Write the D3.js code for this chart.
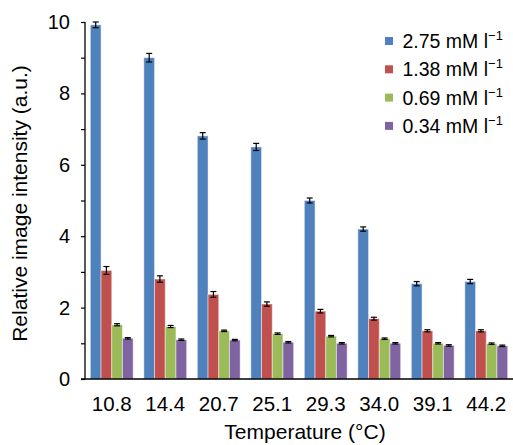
<!DOCTYPE html>
<html>
<head>
<meta charset="utf-8">
<script src="https://cdn.jsdelivr.net/npm/d3@7"></script>
<style>
  body { margin: 0; background: #fff; }
  svg { display: block; font-family: "Liberation Sans", Arial, sans-serif; }
</style>
</head>
<body>
<div id="chart"></div>
<script>
// temperatures on the x axis
var temps = ["10.8", "14.4", "20.7", "25.1", "29.3", "34.0", "39.1", "44.2"];
var seriesNames = ["2.75", "1.38", "0.69", "0.34"];
var seriesColors = ["#4f81bd", "#c0504d", "#9bbb59", "#8064a2"];

var c275 = [9.92, 9.00, 6.81, 6.50, 5.00, 4.20, 2.67, 2.73];
var c138 = [3.04, 2.80, 2.37, 2.10, 1.90, 1.69, 1.35, 1.35];
var c069 = [1.52, 1.47, 1.35, 1.27, 1.20, 1.13, 1.00, 0.99];
var c034 = [1.14, 1.10, 1.09, 1.03, 1.00, 1.00, 0.94, 0.93];

var e275 = [0.08, 0.12, 0.09, 0.10, 0.07, 0.06, 0.06, 0.06];
var e138 = [0.11, 0.09, 0.08, 0.06, 0.05, 0.04, 0.03, 0.03];
var e069 = [0.03, 0.03, 0.02, 0.02, 0.02, 0.02, 0.02, 0.02];
var e034 = [0.02, 0.02, 0.02, 0.02, 0.02, 0.02, 0.02, 0.02];

var yMajor = [0, 2, 4, 6, 8, 10];

var values = [c275, c138, c069, c034];
var errors = [e275, e138, e069, e034];

var width = 513, height = 445;
var margin = { top: 22, right: 0, bottom: 66, left: 85 };
var w = width - margin.left - margin.right;
var h = height - margin.top - margin.bottom;

var svg = d3.select("#chart").append("svg")
  .attr("width", width)
  .attr("height", height);

var g = svg.append("g")
  .attr("transform", "translate(" + margin.left + "," + margin.top + ")");

var x0 = d3.scaleBand().domain(temps).range([0, w]).paddingInner(0.2).paddingOuter(0.1);
var x1 = d3.scaleBand().domain(seriesNames).range([0, x0.bandwidth()]);
var y = d3.scaleLinear().domain([0, 10]).range([h, 0]);

// rows of data, one per temperature
var rows = temps.map(function (t, i) {
  return seriesNames.map(function (s, j) {
    return { t: t, s: s, j: j, v: values[j][i], e: errors[j][i] };
  });
});

var grp = g.selectAll("g.grp")
  .data(rows)
  .enter().append("g")
  .attr("class", "grp")
  .attr("transform", function (d) { return "translate(" + x0(d[0].t) + ",0)"; });

grp.selectAll("rect")
  .data(function (d) { return d; })
  .enter().append("rect")
  .attr("x", function (d) { return x1(d.s); })
  .attr("width", x1.bandwidth())
  .attr("y", function (d) { return y(d.v); })
  .attr("height", function (d) { return h - y(d.v); })
  .attr("fill", function (d) { return seriesColors[d.j]; })
  .attr("stroke", "rgba(255,255,255,0.45)")
  .attr("stroke-width", 1);

// error bars
var eb = grp.selectAll("g.err")
  .data(function (d) { return d; })
  .enter().append("g")
  .attr("class", "err")
  .attr("stroke", "#000")
  .attr("stroke-width", 1.2);

eb.append("line")
  .attr("x1", function (d) { return x1(d.s) + x1.bandwidth() / 2; })
  .attr("x2", function (d) { return x1(d.s) + x1.bandwidth() / 2; })
  .attr("y1", function (d) { return y(d.v + d.e); })
  .attr("y2", function (d) { return y(d.v - d.e); });

eb.selectAll("line.cap")
  .data(function (d) { return [d.v + d.e, d.v - d.e].map(function (v) { return { s: d.s, v: v }; }); })
  .enter().append("line")
  .attr("class", "cap")
  .attr("x1", function (d) { return x1(d.s) + x1.bandwidth() / 2 - 3; })
  .attr("x2", function (d) { return x1(d.s) + x1.bandwidth() / 2 + 3; })
  .attr("y1", function (d) { return y(d.v); })
  .attr("y2", function (d) { return y(d.v); });

// y axis
var yAxis = g.append("g")
  .call(d3.axisLeft(y).tickValues(d3.range(0, 11)).tickSize(4).tickFormat(function (d) {
    return yMajor.indexOf(d) >= 0 ? d : "";
  }));
yAxis.select(".domain").attr("stroke", "#000").attr("stroke-width", 1.3).attr("d", "M0," + h + "V0");
yAxis.selectAll(".tick line").attr("stroke", "#000").attr("stroke-width", 1.2);
yAxis.selectAll(".tick text")
  .attr("x", -15)
  .attr("font-size", 20)
  .attr("font-family", "Liberation Sans, Arial, sans-serif")
  .attr("fill", "#000");

// x axis
var xAxis = g.append("g")
  .attr("transform", "translate(0," + h + ")")
  .call(d3.axisBottom(x0).tickSize(0).tickPadding(17));
xAxis.select(".domain").attr("stroke", "#000").attr("stroke-width", 1.3).attr("d", "M-4,0H" + w);
xAxis.selectAll(".tick text")
  .attr("font-size", 20.5)
  .attr("font-family", "Liberation Sans, Arial, sans-serif")
  .attr("fill", "#000");

// axis titles
svg.append("text")
  .attr("transform", "translate(27," + (margin.top + h / 2 + 3) + ") rotate(-90)")
  .attr("text-anchor", "middle")
  .attr("font-size", 21)
  .attr("fill", "#000")
  .text("Relative image intensity (a.u.)");

svg.append("text")
  .attr("x", 305)
  .attr("y", 439)
  .attr("text-anchor", "middle")
  .attr("font-size", 21)
  .attr("fill", "#000")
  .text("Temperature (°C)");

// legend
var leg = svg.selectAll("g.legend")
  .data(seriesNames)
  .enter().append("g")
  .attr("class", "legend")
  .attr("transform", function (d, i) { return "translate(385," + (41 + i * 28.3) + ")"; });

leg.append("rect")
  .attr("x", 0).attr("y", -4)
  .attr("width", 8).attr("height", 8)
  .attr("fill", function (d, i) { return seriesColors[i]; });

var lt = leg.append("text")
  .attr("x", 17.5)
  .attr("y", 7)
  .attr("font-size", 19.5)
  .attr("fill", "#000");
lt.append("tspan").text(function (d) { return d + " mM l"; });
lt.append("tspan").attr("dy", -8).attr("font-size", 13).text("\u22121");
</script>
</body>
</html>
